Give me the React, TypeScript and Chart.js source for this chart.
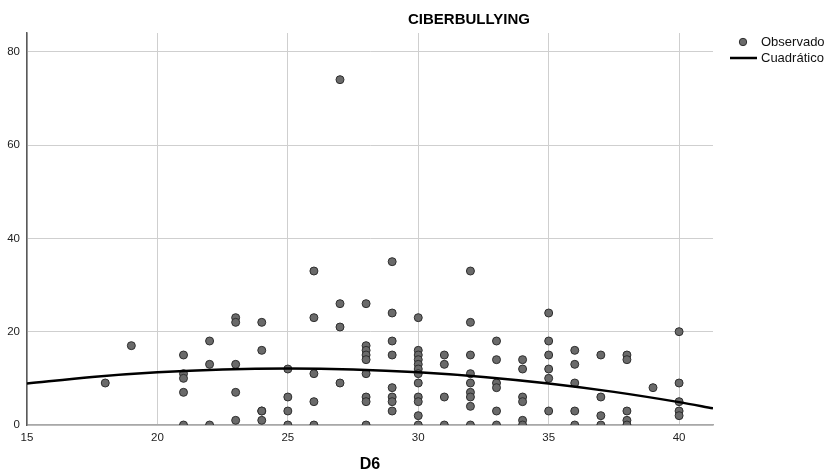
import React, { useEffect, useRef } from "react";
import { Chart, registerables } from "chart.js";

Chart.register(...registerables);

// Observed points: D6 (x) and CIBERBULLYING (y)
const d6Values = [
  18,
  19,
  21, 21, 21, 21, 21,
  22, 22, 22,
  23, 23, 23, 23, 23,
  24, 24, 24, 24, 24,
  25, 25, 25, 25,
  26, 26, 26, 26, 26,
  27, 27, 27, 27,
  28, 28, 28, 28, 28, 28, 28, 28, 28,
  29, 29, 29, 29, 29, 29, 29, 29,
  30, 30, 30, 30, 30, 30, 30, 30, 30, 30, 30, 30,
  31, 31, 31, 31,
  32, 32, 32, 32, 32, 32, 32, 32, 32,
  33, 33, 33, 33, 33, 33,
  34, 34, 34, 34, 34, 34,
  35, 35, 35, 35, 35, 35,
  36, 36, 36, 36, 36,
  37, 37, 37, 37,
  38, 38, 38, 38, 38,
  39,
  40, 40, 40, 40, 40,
];
const cyberValues = [
  9,
  17,
  15, 11, 10, 7, 0,
  18, 13, 0,
  23, 22, 13, 7, 1,
  22, 16, 3, 3, 1,
  12, 6, 3, 0,
  33, 23, 11, 5, 0,
  74, 26, 21, 9,
  26, 17, 16, 15, 14, 11, 6, 5, 0,
  35, 24, 18, 15, 8, 6, 5, 3,
  23, 16, 15, 14, 13, 12, 11, 9, 6, 5, 2, 0,
  15, 13, 6, 0,
  33, 22, 15, 11, 9, 7, 6, 4, 0,
  18, 14, 9, 8, 3, 0,
  14, 12, 6, 5, 1, 0,
  24, 18, 15, 12, 10, 3,
  16, 13, 9, 3, 0,
  15, 6, 2, 0,
  15, 14, 3, 1, 0,
  8,
  20, 9, 5, 3, 2,
];

// Quadratic fit line
const fitX = [15, 17.5, 20, 22.5, 25, 27.5, 30, 32.5, 35, 37.5, 40, 41.3];
const fitY = [8.9, 10.3, 11.3, 11.9, 12.1, 11.9, 11.3, 10.3, 8.9, 7.1, 4.9, 3.6];

const xTicks = [15, 20, 25, 30, 35, 40];
const yTicks = [0, 20, 40, 60, 80];

const titleText = "CIBERBULLYING";
const xAxisLabel = "D6";
const legendLabels = ["Observado", "Cuadrático"];

const FONT = "'Liberation Sans', Arial, Helvetica, sans-serif";
const POINT_FILL = "#6a6a6a";
const POINT_BORDER = "#2e2e2e";

export default function App() {
  const canvasRef = useRef<HTMLCanvasElement | null>(null);

  useEffect(() => {
    const canvas = canvasRef.current;
    if (!canvas) return;

    const textPlugin = {
      id: "spssText",
      afterDraw(chart: any) {
        const ctx = chart.ctx as CanvasRenderingContext2D;
        const area = chart.chartArea;
        ctx.save();
        // title
        ctx.fillStyle = "#000";
        ctx.font = `bold 15px ${FONT}`;
        ctx.textAlign = "center";
        ctx.textBaseline = "middle";
        ctx.fillText(titleText, 469, 20);
        // x axis title
        ctx.font = `bold 16px ${FONT}`;
        ctx.fillText(xAxisLabel, (area.left + area.right) / 2, 465);
        // legend
        ctx.textAlign = "left";
        ctx.font = `13px ${FONT}`;
        ctx.fillStyle = "#111";
        ctx.beginPath();
        ctx.arc(743, 42, 3.7, 0, Math.PI * 2);
        ctx.fillStyle = POINT_FILL;
        ctx.fill();
        ctx.lineWidth = 1;
        ctx.strokeStyle = POINT_BORDER;
        ctx.stroke();
        ctx.fillStyle = "#111";
        ctx.fillText(legendLabels[0], 761, 42);
        ctx.beginPath();
        ctx.moveTo(730, 58);
        ctx.lineTo(757, 58);
        ctx.lineWidth = 2.5;
        ctx.strokeStyle = "#000";
        ctx.stroke();
        ctx.fillText(legendLabels[1], 761, 58);
        ctx.restore();
      },
    };

    const chart = new Chart(canvas, {
      type: "scatter",
      data: {
        datasets: [
          {
            type: "line",
            label: legendLabels[1],
            data: fitX.map((x, i) => ({ x, y: fitY[i] })),
            borderColor: "#000",
            borderWidth: 2.5,
            pointRadius: 0,
            tension: 0.4,
            cubicInterpolationMode: "monotone",
            fill: false,
            order: 0,
          } as any,
          {
            type: "scatter",
            label: legendLabels[0],
            data: d6Values.map((x, i) => ({ x, y: cyberValues[i] })),
            backgroundColor: POINT_FILL,
            borderColor: POINT_BORDER,
            borderWidth: 1,
            pointRadius: 4,
            order: 1,
          },
        ],
      },
      options: {
        animation: false,
        responsive: false,
        maintainAspectRatio: false,
        layout: { padding: { left: 0, top: 33, right: 117, bottom: 0 } },
        plugins: {
          legend: { display: false },
          title: { display: false },
          tooltip: { enabled: false },
        },
        scales: {
          x: {
            type: "linear",
            min: 15,
            max: 41.3,
            afterFit(scale: any) {
              scale.height = 48;
            },
            afterBuildTicks(scale: any) {
              scale.ticks = xTicks.map((v) => ({ value: v }));
            },
            grid: { color: "#cfcfcf", lineWidth: 1, drawTicks: false },
            border: { color: "#a8a8a8", width: 1.5 },
            ticks: {
              padding: 6,
              color: "#222",
              font: { family: FONT, size: 11.5 },
              maxRotation: 0,
            },
          },
          y: {
            type: "linear",
            min: 0,
            max: 84,
            afterFit(scale: any) {
              scale.width = 27;
            },
            afterBuildTicks(scale: any) {
              scale.ticks = yTicks.map((v) => ({ value: v }));
            },
            grid: { color: "#cfcfcf", lineWidth: 1, drawTicks: false },
            border: { color: "#5a5a5a", width: 1.5 },
            ticks: {
              padding: 7,
              color: "#222",
              font: { family: FONT, size: 11.5 },
            },
          },
        },
      },
      plugins: [textPlugin],
    });

    return () => {
      chart.destroy();
    };
  }, []);

  return (
    <div
      style={{
        position: "fixed",
        left: 0,
        top: 0,
        width: 830,
        height: 473,
        background: "#fff",
      }}
    >
      <canvas ref={canvasRef} width={830} height={473} style={{ display: "block" }} />
    </div>
  );
}
